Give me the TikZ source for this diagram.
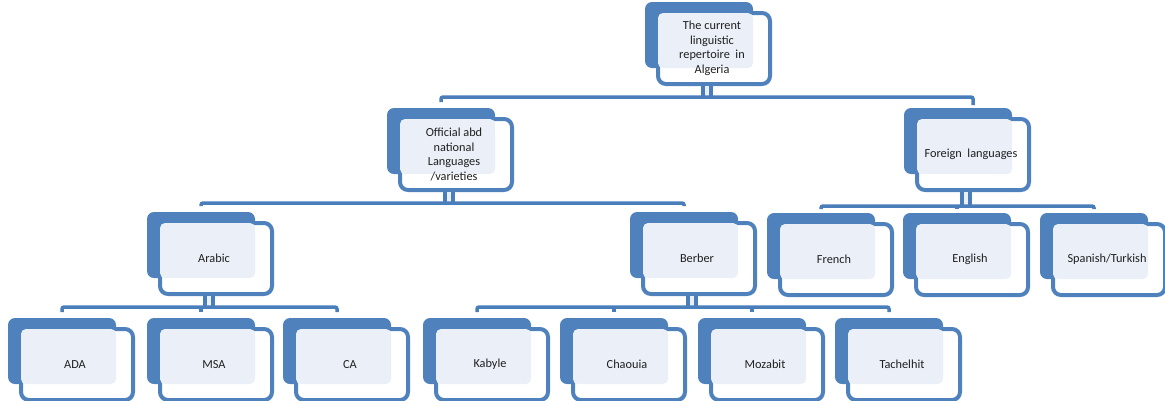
\documentclass[tikz,border=0pt]{standalone}
\usepackage{fontspec}
\setmainfont{Carlito}
\usetikzlibrary{calc}
\definecolor{sb}{HTML}{4F81BD}
\definecolor{lb}{HTML}{EBF0F8}
\definecolor{cb}{HTML}{4A7EBB}
\tikzset{
 backbox/.style={fill=sb, rounded corners=7pt, minimum width=108pt, minimum height=66pt, inner sep=0pt, outer sep=0pt, anchor=north west},
 frontbox/.style={draw=sb, line width=4pt, fill=white, rounded corners=8pt, minimum width=112pt, minimum height=71pt, inner sep=0pt, anchor=north west},
 lightbox/.style={fill=lb, rounded corners=5pt},
 lbl/.style={font=\fontsize{12.3}{14.5}\selectfont, text=black!88, align=center},
 conn/.style={draw=cb, line width=3.5pt, rounded corners=2pt},
 stem/.style={draw=cb, line width=4pt, double=lb, double distance=4pt},
}
\newcommand\ebox[4]{%
 \node[backbox] (#1-b) at (#2,#3) {};
 \node[frontbox] (#1) at ($(#2,#3)+(11,9)$) {};
 \fill[lightbox] ($(#1-b.north west)+(13,11)$) rectangle (#1-b.south east);
 \node[lbl] (#1-t) at ($(#1.center)+(-2,0)$) {#4};
 \coordinate (#1-s) at ($(#1-b.south)!0.5!(#1.south)$);
}
\begin{document}
\begin{tikzpicture}[x=1pt,y=-1pt]
\useasboundingbox (0,0) rectangle (1165,400);
\ebox{top}{645}{2}{The current\\linguistic\\repertoire~~in\\Algeria}
\ebox{official}{387}{108}{Official abd\\national\\Languages\\/varieties}
\ebox{foreign}{904}{108}{Foreign~~languages}
\ebox{arabic}{147}{212}{Arabic}
\ebox{berber}{630}{212}{Berber}
\ebox{french}{767}{213}{French}
\ebox{english}{903}{213}{English}
\ebox{spanish}{1040}{213}{Spanish/Turkish}
\ebox{ada}{8}{318}{ADA}
\ebox{msa}{147}{318}{MSA}
\ebox{ca}{283}{318}{CA}
\ebox{kabyle}{423}{318}{Kabyle}
\ebox{chaouia}{560}{318}{Chaouia}
\ebox{mozabit}{698}{318}{Mozabit}
\ebox{tachelhit}{835}{318}{Tachelhit}
% level 1
\coordinate (b1) at ($(top.south)+(0,11)$);
\draw[stem] (top-s |- top.south) -- (top-s |- b1);
\draw[conn] ($(official-b.north)+(0,-6)$) |- (b1) -| ($(foreign.north)+(0,-12)$);
% official children
\coordinate (b2) at ($(official.south)+(0,11)$);
\draw[stem] (official-s |- official.south) -- (official-s |- b2);
\draw[conn] ($(arabic-b.north)+(0,-6)$) |- (b2) -| ($(berber-b.north)+(0,-6)$);
% foreign children
\coordinate (b3) at ($(foreign.south)+(0,14)$);
\draw[stem] (foreign-s |- foreign.south) -- (foreign-s |- b3);
\draw[conn] ($(french-b.north)+(0,-4)$) |- (b3) -| ($(spanish-b.north)+(0,-4)$);
\draw[conn] (english-b.north) ++(0,-4) -- (english-b.north |- b3);
% arabic children
\coordinate (b4) at ($(arabic.south)+(0,11)$);
\draw[stem] (arabic-s |- arabic.south) -- (arabic-s |- b4);
\draw[conn] ($(ada-b.north)+(0,-6)$) |- (b4) -| ($(ca-b.north)+(0,-6)$);
\draw[conn] (msa-b.north) ++(0,-6) -- (msa-b.north |- b4);
% berber children
\coordinate (b5) at ($(berber.south)+(0,11)$);
\draw[stem] (berber-s |- berber.south) -- (berber-s |- b5);
\draw[conn] ($(kabyle-b.north)+(0,-6)$) |- (b5) -| ($(tachelhit-b.north)+(0,-6)$);
\draw[conn] (chaouia-b.north) ++(0,-6) -- (chaouia-b.north |- b5);
\draw[conn] (mozabit-b.north) ++(0,-6) -- (mozabit-b.north |- b5);
\end{tikzpicture}
\end{document}
